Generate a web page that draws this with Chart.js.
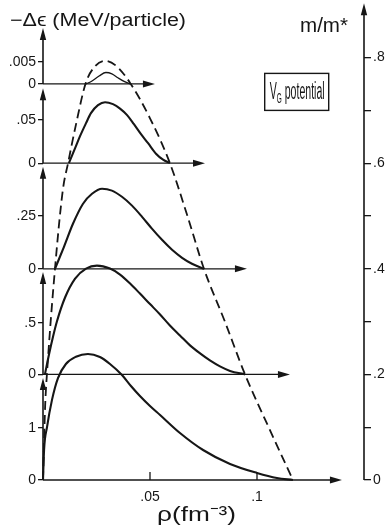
<!DOCTYPE html>
<html>
<head>
<meta charset="utf-8">
<script src="https://cdn.jsdelivr.net/npm/chart.js@4/dist/chart.umd.min.js"></script>
<style>
html,body{margin:0;padding:0;background:#fff}
#wrap{width:390px;height:529px;position:relative}
</style>
</head>
<body>
<div id="wrap"><canvas id="c"></canvas></div>
<script>
/* ---- values ---- */
/* dashed curve: m/m* against density rho (fm^-3) */
var rhoDash=[0,0.001,0.002,0.0056,0.0093,0.0117,0.0155,0.020,0.024,0.029,0.034,0.0407,0.050,0.0593,0.0675,0.0752,0.085,0.0944,0.106,0.1168];
var mDash=[0,0.14,0.21,0.40,0.55,0.60,0.675,0.752,0.782,0.794,0.785,0.752,0.685,0.60,0.50,0.40,0.30,0.20,0.095,0];

/* solid curves: -dE (MeV/particle) against rho, one per m/m* panel */
var rho0=[0,0.0005,0.0019,0.0042,0.007,0.0107,0.0154,0.021,0.0266,0.0313,0.0369,0.0411,0.0453,0.05,0.0547,0.064,0.0748,0.0874,0.1,0.1093,0.1168];
var dE0=[0,0.577,1.02,1.54,1.96,2.23,2.37,2.423,2.365,2.231,2.019,1.808,1.615,1.423,1.25,0.904,0.577,0.308,0.135,0.038,0];

var rho1=[0.0009,0.0028,0.0047,0.0065,0.0103,0.015,0.0201,0.0252,0.0313,0.036,0.0407,0.0453,0.05,0.0547,0.0593,0.064,0.0687,0.0734,0.078,0.0827,0.0874,0.0944];
var dE1=[0,0.194,0.369,0.515,0.748,0.932,1.029,1.058,1.029,0.971,0.883,0.786,0.684,0.583,0.476,0.379,0.282,0.204,0.136,0.078,0.034,0];

var rho2=[0.0056,0.0098,0.014,0.0187,0.0229,0.0276,0.0322,0.0369,0.0416,0.0463,0.0509,0.0556,0.0603,0.065,0.0696,0.0752];
var dE2=[0,0.104,0.213,0.308,0.355,0.379,0.37,0.341,0.299,0.246,0.19,0.137,0.09,0.052,0.024,0];

var rho3=[0.0121,0.015,0.0173,0.0201,0.0224,0.0257,0.029,0.0327,0.036,0.0393,0.0425,0.0458,0.0491,0.0528,0.0561,0.0593];
var dE3=[0,0.0174,0.0313,0.0463,0.0579,0.0671,0.0706,0.0683,0.0631,0.0556,0.0451,0.0336,0.0231,0.011,0.0041,0];

var rho4=[0.0201,0.0229,0.0262,0.0294,0.0322,0.0350,0.0379,0.0407];
var dE4=[0,0.00068,0.0018,0.0026,0.0023,0.0014,0.00057,0];

/* panels: baseline m/m*, and m/m* units per MeV on that panel's own -dE axis */
var panelM=[0,0.2,0.4,0.6,0.75];
var panelScale=[0.0985,0.1947,0.4,1.636,8.33];
var panelTick=[1,0.5,0.25,0.05,0.005];
var panelTickLbl=['1','.5','.25','.05','.005'];
var arrowEnd=[0.1397,0.1154,0.0953,0.0757,0.0523];  // rho where each baseline arrow stops
var axisTip=[0.193,0.394,0.593,0.742,0.856];        // m/m* where each left axis arrow stops

var mTicks=[0,0.1,0.2,0.3,0.4,0.5,0.6,0.7,0.8];
var mTickLbl=['0','','.2','','.4','','.6','','.8'];
var xTicks=[0,0.05,0.1];
var xTickLbl=['','.05','.1'];
var M_MAX=0.909;

var INK='#161616';
var FONT="'Liberation Sans', Arial, sans-serif";

var curves=[[rho0,dE0],[rho1,dE1],[rho2,dE2],[rho3,dE3],[rho4,dE4]];
var ds=curves.map(function(c,i){
  return{
    data:c[0].map(function(r,k){return{x:r,y:panelM[i]+panelScale[i]*c[1][k]};}),
    borderColor:INK,borderWidth:i==4?1.3:2.1,pointRadius:0,fill:false,
    cubicInterpolationMode:'monotone',clip:false
  };
});
ds.push({
  data:rhoDash.map(function(r,k){return{x:r,y:mDash[k]};}),
  borderColor:INK,borderWidth:1.8,borderDash:[9,5],pointRadius:0,fill:false,
  cubicInterpolationMode:'monotone',clip:false
});

/* left tick positions in m/m* units */
var leftVals=[],leftLbl=[];
panelM.forEach(function(b,i){
  leftVals.push(b);leftLbl.push('0');
  leftVals.push(b+panelScale[i]*panelTick[i]);leftLbl.push(panelTickLbl[i]);
});

function head(ctx,x,y,dir){
  ctx.beginPath();
  if(dir=='r'){ctx.moveTo(x,y);ctx.lineTo(x-12,y-3.5);ctx.lineTo(x-12,y+3.5);}
  else{ctx.moveTo(x,y);ctx.lineTo(x-3.2,y+12);ctx.lineTo(x+3.2,y+12);}
  ctx.closePath();ctx.fill();
}
/* draw text squeezed to a width, like the narrow lettering of the original */
function fitText(ctx,parts,x,yb,w){
  var tot=0;
  parts.forEach(function(p){ctx.font=p.s+'px '+FONT;p.w=ctx.measureText(p.t).width;tot+=p.w;});
  ctx.save();ctx.translate(x,yb);ctx.scale(w/tot,1);
  var cx=0;
  parts.forEach(function(p){ctx.font=p.s+'px '+FONT;ctx.fillText(p.t,cx,p.dy||0);cx+=p.w;});
  ctx.restore();
}
/* fixed axis widths, and no label padding at the ends of the vertical axes */
function fitV(w){
  return function(s){s.width=w;s.paddingTop=0;s.paddingBottom=0;};
}

var deco={
  id:'deco',
  afterDraw:function(chart){
    var ctx=chart.ctx,x=chart.scales.x,y=chart.scales.y;
    var x0=x.getPixelForValue(0);
    ctx.save();
    ctx.strokeStyle=INK;ctx.fillStyle=INK;ctx.lineWidth=1.3;
    /* baselines with arrows */
    panelM.forEach(function(b,i){
      var py=y.getPixelForValue(b),x1=x.getPixelForValue(arrowEnd[i]);
      ctx.beginPath();ctx.moveTo(x0,py);ctx.lineTo(x1-6,py);ctx.stroke();
      head(ctx,x1,py,'r');
    });
    /* left -dE axis pieces */
    ctx.lineWidth=1.6;
    panelM.forEach(function(b,i){
      var p0=y.getPixelForValue(b),p1=y.getPixelForValue(axisTip[i]);
      ctx.beginPath();ctx.moveTo(x0,p0);ctx.lineTo(x0,p1+6);ctx.stroke();
      head(ctx,x0,p1,'u');
    });
    /* right m/m* axis */
    var xr=chart.chartArea.right;
    ctx.beginPath();ctx.moveTo(xr,y.getPixelForValue(0));ctx.lineTo(xr,y.getPixelForValue(0.903)+6);ctx.stroke();
    head(ctx,xr,y.getPixelForValue(0.903),'u');
    /* inner ticks on rho axis */
    ctx.lineWidth=1.3;
    xTicks.slice(1).forEach(function(v){
      var px=x.getPixelForValue(v),py=y.getPixelForValue(0);
      ctx.beginPath();ctx.moveTo(px,py);ctx.lineTo(px,py-8);ctx.stroke();
    });
    /* texts */
    ctx.textBaseline='alphabetic';
    fitText(ctx,[{t:'\u2212\u0394\u03F5 (MeV/particle)',s:18}],10,26,176);
    fitText(ctx,[{t:'m/m*',s:20}],300,32,48);
    fitText(ctx,[{t:'\u03C1(fm',s:21},{t:'\u207B\u00B3',s:21},{t:')',s:21}],157,521,79);
    /* V_G potential box */
    var bx=x.getPixelForValue(0.1036),by=y.getPixelForValue(0.77);
    ctx.lineWidth=1.4;ctx.strokeRect(bx,by,64,37);
    fitText(ctx,[{t:'V',s:23},{t:'G',s:14,dy:4},{t:' potential',s:23}],bx+5,by+26,55);
    ctx.restore();
  }
};

new Chart(document.getElementById('c'),{
  type:'line',
  data:{datasets:ds},
  plugins:[deco],
  options:{
    responsive:true,maintainAspectRatio:false,animation:false,
    layout:{padding:0,autoPadding:false},
    plugins:{legend:{display:false},tooltip:{enabled:false}},
    scales:{
      x:{type:'linear',min:0,max:0.15,position:'bottom',
        afterBuildTicks:function(s){s.ticks=xTicks.map(function(v){return{value:v};});},
        afterFit:function(s){s.height=49;s.paddingLeft=0;s.paddingRight=0;},
        ticks:{callback:function(v,i){return xTickLbl[i];},font:{size:14,family:FONT},color:INK,padding:1,maxRotation:0,autoSkip:false},
        grid:{display:false},border:{display:false}},
      y:{type:'linear',min:0,max:M_MAX,position:'right',
        afterBuildTicks:function(s){s.ticks=mTicks.map(function(v){return{value:v};});},
        afterFit:fitV(26),
        ticks:{callback:function(v,i){return mTickLbl[i];},font:{size:14,family:FONT},color:INK,padding:2,autoSkip:false},
        grid:{drawOnChartArea:false,tickLength:7,color:INK,lineWidth:1.3},border:{display:false}},
      yL:{type:'linear',min:0,max:M_MAX,position:'left',
        afterBuildTicks:function(s){s.ticks=leftVals.map(function(v){return{value:v};});},
        afterFit:fitV(43),
        ticks:{callback:function(v,i){return leftLbl[i];},font:{size:14,family:FONT},color:INK,padding:2,autoSkip:false},
        grid:{drawOnChartArea:false,tickLength:5,color:INK,lineWidth:1.3},border:{display:false}}
    }
  }
});
</script>
</body>
</html>
